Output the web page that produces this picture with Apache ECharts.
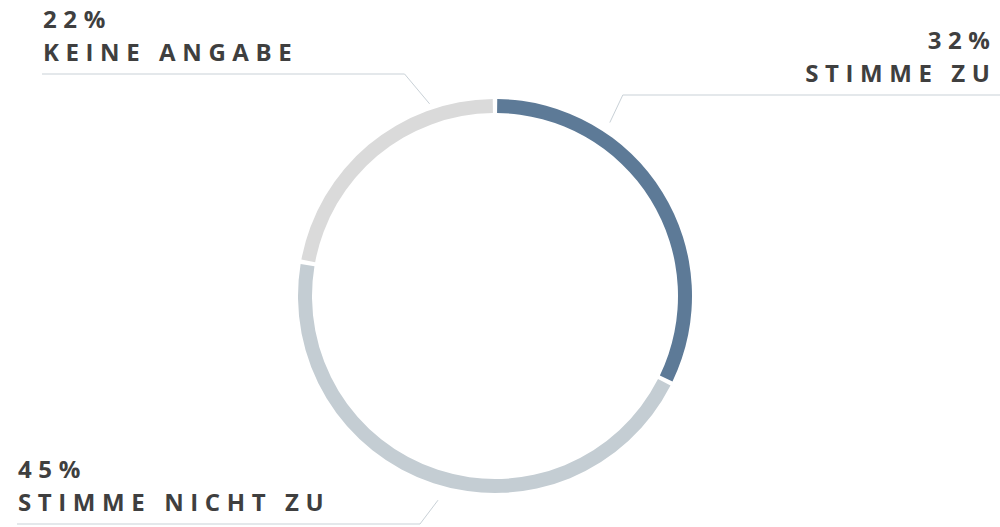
<!DOCTYPE html>
<html>
<head>
<meta charset="utf-8">
<script src="https://cdn.jsdelivr.net/npm/echarts@6/dist/echarts.min.js"></script>
<style>
  html, body { margin: 0; padding: 0; background: #fff; }
  #chart { width: 1000px; height: 527px; }
  /* ECharts has no letter spacing option, so the svg text gets it from css */
  #chart text { letter-spacing: 6.6px; }
</style>
</head>
<body>
<div id="chart"></div>
<script>
// Dữ liệu
const categories = ['STIMME ZU', 'STIMME NICHT ZU', 'KEINE ANGABE'];
const values = [32, 45, 22];
const colors = ['#5d7a97', '#c4cdd3', '#dadada'];

const cx = 495, cy = 296, rIn = 183, rOut = 197;
const spacing = 6.6;

// where each label line starts on the ring and where its text sits
const labelPlace = [
  { angle: 56.5, gap: 11, dx: 13, lineY: 95, edge: 990, side: 'right' },
  { angle: -105.6, gap: 15, dx: -18, lineY: 524, edge: 18, side: 'left' },
  { angle: 108.8, gap: 6, dx: -25, lineY: 74, edge: 43, side: 'left' }
];

const chart = echarts.init(document.getElementById('chart'), null, { renderer: 'svg' });

const options = {
  animation: false,
  series: [
    {
      type: 'pie',
      center: [cx, cy],
      radius: [rIn, rOut],
      startAngle: 90,
      clockwise: true,
      padAngle: 1.3,
      avoidLabelOverlap: false,
      emphasis: { scale: false },
      data: categories.map((name, i) => ({
        name: name,
        value: values[i],
        itemStyle: { color: colors[i] }
      })),
      label: {
        show: true,
        position: 'outside',
        formatter: (p) => p.value + '%\n' + p.name,
        color: '#3f3f3f',
        fontFamily: 'Open Sans',
        fontWeight: 'bold',
        fontSize: 24,
        lineHeight: 33
      },
      labelLine: {
        show: true,
        lineStyle: { color: '#c9d1d7', width: 1 }
      },
      labelLayout: (params) => {
        const lp = labelPlace[params.dataIndex];
        const a = lp.angle * Math.PI / 180;
        const r = rOut + lp.gap;
        const sx = cx + r * Math.cos(a);
        const sy = cy - r * Math.sin(a);
        const farX = lp.side === 'left' ? lp.edge - 1 : 1000;
        return {
          x: lp.side === 'left' ? lp.edge : lp.edge + spacing,
          y: lp.lineY - 6,
          align: lp.side,
          verticalAlign: 'bottom',
          labelLinePoints: [[sx, sy], [sx + lp.dx, lp.lineY], [farX, lp.lineY]]
        };
      }
    }
  ]
};

chart.setOption(options);
</script>
</body>
</html>
